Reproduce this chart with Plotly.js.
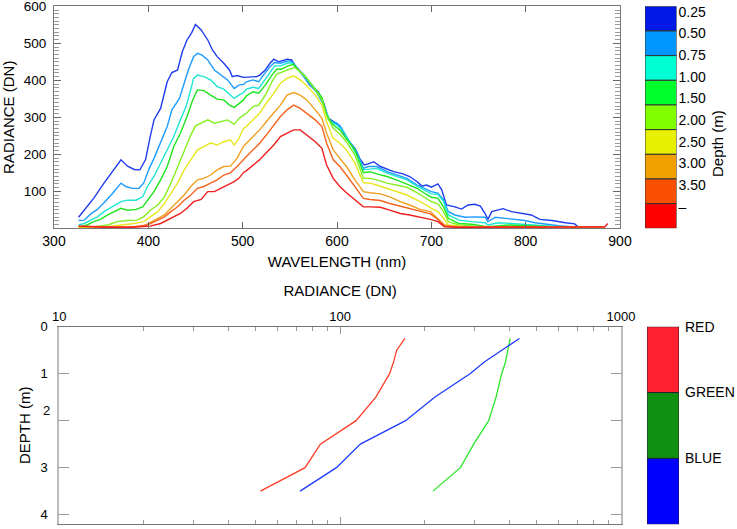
<!DOCTYPE html>
<html>
<head>
<meta charset="utf-8">
<script src="https://cdn.plot.ly/plotly-3.0.1.min.js"></script>
<style>html,body{margin:0;padding:0;background:#fff;}#chart{width:737px;height:529px;}</style>
</head>
<body>
<div id="chart"></div>
<script>
// ---------- DATA: spectra (top panel) ----------
const depthLabels = ['0.25','0.50','0.75','1.00','1.50','2.00','2.50','3.00','3.50','\u2013'];

const wl025 = [326,332,342,353,362,371,378,385,391,397,402,406,413,420,425,431,436,441,446,450,456,463,468,473,480,486,489,494,501,508,515,518,524,529,533,538,543,547,552,556,563,571,580,586,591,598,603,610,619,624,629,633,639,646,653,660,670,677,685,690,695,700,707,711,716,725,732,739,746,752,757,760,764,769,776,785,796,806,815,828,842,852,856,870,884];
const rad025 = [30,49,81,122,153,185,168,159,158,185,248,293,324,396,421,428,477,509,529,551,536,509,482,464,446,428,410,413,408,410,410,414,428,446,457,450,455,457,455,437,419,387,369,338,297,285,277,243,216,189,171,174,180,167,159,153,147,140,126,114,117,111,120,104,63,58,52,63,65,60,40,24,45,49,53,45,40,36,24,21,15,12,3,3,2];

const wl050 = [326,332,339,346,353,362,371,376,383,390,395,401,406,413,420,425,433,438,443,448,452,457,463,470,477,484,491,496,501,504,511,517,522,529,534,540,545,550,554,561,570,578,586,591,600,605,612,621,628,633,642,653,663,674,685,692,700,707,713,718,725,736,746,757,760,768,778,789,799,810,821,835,849,863,884];
const rad050 = [21,22,39,51,69,94,122,113,108,108,122,162,189,230,275,320,351,392,432,464,473,468,455,428,414,401,378,387,389,396,401,396,414,437,448,446,450,453,446,423,392,369,333,293,284,270,239,207,162,167,167,153,144,135,117,108,99,95,77,45,36,30,31,30,18,30,27,22,21,15,11,7,4,3,2];

const wl075 = [326,332,339,346,353,362,371,378,387,394,399,406,413,420,427,434,440,445,448,452,459,466,473,480,487,491,496,501,504,511,517,522,529,534,540,547,552,557,564,573,582,587,593,600,607,614,621,628,635,642,653,663,674,685,692,700,707,713,718,729,743,757,760,771,785,799,813,835,856,884];
const rad075 = [9,13,22,31,45,58,72,76,76,85,113,140,176,212,248,293,329,375,405,414,410,401,383,376,360,351,360,367,376,381,378,396,423,439,439,446,448,432,417,387,360,324,288,279,261,230,198,158,159,162,149,140,131,114,104,93,92,72,36,22,18,15,9,15,13,11,7,4,3,2];

const wl100 = [327,335,342,349,357,364,371,378,387,394,401,406,413,420,427,434,441,447,452,459,466,473,480,486,491,496,501,504,511,517,524,531,536,541,548,554,559,566,575,584,589,596,603,610,619,628,635,642,653,663,674,685,692,700,707,713,718,729,743,760,782,799,821,842,884];
const rad100 = [4,9,18,24,36,45,54,49,51,58,81,99,131,167,221,257,302,347,374,372,360,349,347,333,327,338,347,358,369,365,387,414,430,430,439,443,428,412,383,354,306,279,266,243,212,150,153,147,140,131,120,108,96,84,81,58,27,13,11,4,9,7,4,3,2];

const wl150 = [326,342,357,367,378,388,395,402,410,417,424,431,438,445,450,456,463,470,477,484,491,496,501,504,511,517,524,531,536,543,550,555,561,568,577,584,589,596,603,610,619,628,635,642,653,663,674,685,692,700,707,713,718,729,746,764,799,835,884];
const rad150 = [3,4,9,18,21,22,31,49,63,85,122,167,212,252,277,284,293,284,288,293,281,297,306,311,329,333,360,396,417,423,430,435,423,405,374,347,304,270,255,234,198,135,135,131,122,117,111,96,85,72,66,45,18,9,6,4,4,3,2];

const wl200 = [326,353,371,385,395,402,410,417,424,431,438,445,452,459,466,473,480,487,491,496,501,504,511,518,525,533,540,547,554,561,568,577,584,589,596,603,610,619,628,635,642,653,663,674,685,692,700,707,713,718,736,764,835,884];
const rad200 = [3,3,9,13,18,30,45,67,94,122,158,185,212,221,231,225,234,239,225,243,270,275,293,311,338,365,392,405,412,401,385,360,333,288,243,230,212,176,123,122,117,108,99,90,76,67,54,45,27,9,4,3,3,2];

const wl250 = [326,353,381,395,402,410,417,424,431,438,445,452,459,466,473,480,487,494,501,504,511,518,525,533,540,547,554,561,568,577,584,589,596,603,610,619,628,635,646,656,667,677,688,699,707,714,729,884];
const rad250 = [4,4,3,6,15,27,36,54,72,90,113,131,135,144,158,167,168,189,222,230,248,266,288,311,333,360,367,360,347,320,297,257,212,189,167,131,99,96,93,85,72,63,51,45,27,9,3,2];

const wl300 = [326,353,381,399,410,417,424,431,438,445,452,459,466,473,480,487,494,501,504,511,518,525,533,540,547,554,561,568,577,584,589,596,603,610,619,628,635,646,656,667,677,688,699,707,714,729,884];
const rad300 = [6,4,3,9,22,31,45,58,76,90,108,113,122,131,144,150,167,188,194,212,230,252,279,302,320,333,324,311,293,275,230,185,167,144,113,81,78,75,67,60,54,47,39,24,6,3,2];

const wl350 = [326,353,381,402,413,420,427,434,441,448,456,463,470,477,484,491,496,501,504,511,518,525,533,540,547,554,561,568,577,584,589,596,603,610,619,628,635,646,656,667,677,688,699,707,714,729,799,852,884,887];
const rad350 = [6,3,3,6,13,22,31,40,54,72,78,99,99,108,117,126,135,151,156,171,185,204,225,248,257,266,266,252,234,216,171,135,113,96,76,58,58,57,49,40,36,31,24,18,4,3,4,3,4,13];

// ---------- DATA: depth profiles (bottom panel) ----------
const depths   = [0.25,0.5,0.75,1.0,1.5,2.0,2.5,3.0,3.5];
const redBand  = [170,159,155,150,134,114,85,75,52];
const greenBand= [403,395,388,376,359,338,299,268,214];
const blueBand = [435,378,326,290,217,171,118,97,72];
const bandLabels = ['RED','GREEN','BLUE'];
const depthTicks = [0,1,2,3,4];
const radTicks = [10,100,1000];
const radMinor = [20,30,40,50,60,70,80,90,200,300,400,500,600,700,800,900];
const radianceTicks = [100,200,300,400,500,600];
const wavelengthTicks = [300,400,500,600,700,800,900];

// ---------- STYLES ----------
const lineColors = ['#1e3cf0','#1e9bff','#1ee6d2','#1ee61e','#82f01e','#e6e61e','#f0a01e','#f5641e','#f01e1e'];
const barColors  = ['#0019e6','#0096ff','#00ffd2','#00ff2d','#80ff00','#e6f000','#f0a000','#f85000','#ff0000'];
const bandLineColors = ['#ff3c28','#28e628','#1e3cff'];
const bandBarColors  = ['#ff2030','#109010','#0000ff'];

const spectra = [[wl025,rad025],[wl050,rad050],[wl075,rad075],[wl100,rad100],[wl150,rad150],[wl200,rad200],[wl250,rad250],[wl300,rad300],[wl350,rad350]];

const W = 737, H = 529;
const px = v => v / W;
const py = v => 1 - v / H;

const traces = [];
spectra.forEach((s, i) => {
  traces.push({type:'scatter', mode:'lines', x:s[0], y:s[1], xaxis:'x', yaxis:'y',
    line:{color:lineColors[i], width:1.4}, name:depthLabels[i], hoverinfo:'x+y'});
});

// top colour bar (one segment per depth curve)
const nSeg = spectra.length;
traces.push({type:'bar', x:Array(nSeg).fill(0), y:Array(nSeg).fill(1), base:[...Array(nSeg).keys()],
  width:1, xaxis:'x2', yaxis:'y2', marker:{color:barColors, line:{color:'#333', width:1}}, hoverinfo:'skip'});

// bottom profiles
[[redBand,0],[greenBand,1],[blueBand,2]].forEach(([vals, i]) => {
  traces.push({type:'scatter', mode:'lines', x:vals, y:depths, xaxis:'x3', yaxis:'y3',
    line:{color:bandLineColors[i], width:1.3}, name:bandLabels[i]});
});

// bottom colour bar
traces.push({type:'bar', x:[0,0,0], y:[1,1,1], base:[0,1,2], width:1, xaxis:'x4', yaxis:'y4',
  marker:{color:bandBarColors, line:{color:'#223', width:1}}, hoverinfo:'skip'});

// label positions on the top colour bar (evenly spread, measured)
const cbLabelPos = depthLabels.map((_, j) => 0.22 + j * 0.878);
// minor radiance ticks every 10 DN
const radMinorTop = [];
for (let v = 10; v < 600; v += 10) if (v % 100) radMinorTop.push(v);

const font = 'Liberation Sans, Arial, Helvetica, sans-serif';

const layout = {
  width: W, height: H,
  margin: {l:0, r:0, t:0, b:0},
  paper_bgcolor: '#fff', plot_bgcolor: '#fff',
  showlegend: false,
  font: {family: font, size: 14, color: '#000'},
  xaxis: {
    domain: [px(54), px(620)], anchor: 'y', range: [300, 900],
    tickvals: wavelengthTicks, ticks: 'inside', ticklen: 6, tickcolor: '#666',
    showline: true, linecolor: '#777', linewidth: 1, mirror: 'ticks',
    showgrid: false, zeroline: false, tickfont: {size: 14}, ticklabeloverflow: 'allow',
    title: {text: 'WAVELENGTH (nm)', font: {size: 15}, standoff: 8}
  },
  yaxis: {
    domain: [py(228.3), py(6.3)], anchor: 'x', range: [0, 600],
    tickvals: radianceTicks, ticks: 'inside', ticklen: 7, tickcolor: '#666',
    minor: {tickmode: 'array', tickvals: radMinorTop, ticks: 'inside', ticklen: 5, tickcolor: '#999', tickwidth: 1, showgrid: false},
    showline: true, linecolor: '#777', linewidth: 1, mirror: 'ticks',
    showgrid: false, zeroline: false, tickfont: {size: 13.5}, ticklabelstandoff: 4,
    ticklabelshift: 2.5, ticklabeloverflow: 'allow',
    title: {text: 'RADIANCE (DN)', font: {size: 15}, standoff: 8}
  },
  xaxis2: {domain: [px(645), px(676.5)], anchor: 'y2', range: [-0.5, 0.5], visible: false, fixedrange: true},
  yaxis2: {
    domain: [py(228.3), py(6.3)], anchor: 'x2', range: [9, 0], side: 'right',
    tickvals: cbLabelPos, ticktext: depthLabels, ticks: '', showline: false,
    showgrid: false, zeroline: false, tickfont: {size: 14}, ticklabelstandoff: 1, ticklabeloverflow: 'allow'
  },
  xaxis3: {
    domain: [px(59.3), px(621)], anchor: 'y3', type: 'log', range: [1, 3], side: 'top',
    tickvals: radTicks, ticktext: radTicks.map(String), ticks: 'inside', ticklen: 7, tickcolor: '#999',
    minor: {tickvals: radMinor, ticks: 'inside', ticklen: 4, tickcolor: '#999'},
    showline: true, linecolor: '#777', linewidth: 1, mirror: 'ticks',
    showgrid: false, zeroline: false, tickfont: {size: 13}, ticklabeloverflow: 'allow',
    title: {text: 'RADIANCE (DN)', font: {size: 15}, standoff: 8}
  },
  yaxis3: {
    domain: [py(524), py(326.7)], anchor: 'x3', range: [4.2, 0],
    tickvals: depthTicks, ticktext: ['0','1','','3','4'], ticks: 'inside', ticklen: 10, tickcolor: '#999',
    showline: true, linecolor: '#bbb', linewidth: 2, mirror: 'ticks',
    showgrid: false, zeroline: false, tickfont: {size: 13}, ticklabelstandoff: 7, ticklabeloverflow: 'allow',
    title: {text: 'DEPTH (m)', font: {size: 15}, standoff: 6}
  },
  xaxis4: {domain: [px(647), px(679)], anchor: 'y4', range: [-0.5, 0.5], visible: false, fixedrange: true},
  yaxis4: {
    domain: [py(524.3), py(326.7)], anchor: 'x4', range: [3, 0], side: 'right',
    tickvals: [0,1,2], ticktext: bandLabels, ticks: '', showline: false,
    showgrid: false, zeroline: false, tickfont: {size: 14}, ticklabelstandoff: 5, ticklabeloverflow: 'allow'
  },
  annotations: [
    {text: 'Depth (m)', textangle: -90, xref: 'paper', yref: 'paper', x: px(728), y: py(108),
     showarrow: false, font: {size: 15}},
    {text: '2', xref: 'paper', yref: 'y3', x: px(52), y: 1.79, xanchor: 'right', yanchor: 'middle',
     showarrow: false, font: {size: 13}}
  ]
};

Plotly.newPlot('chart', traces, layout, {displayModeBar: false, staticPlot: true});
</script>
</body>
</html>
